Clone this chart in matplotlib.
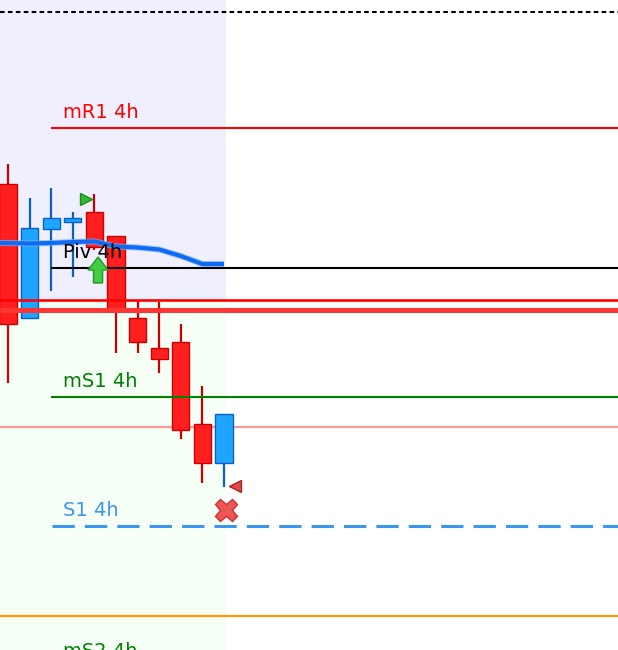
import matplotlib
matplotlib.use("Agg")
import matplotlib.pyplot as plt
import numpy as np

# candles (index, open, high, low, close)
idx = [0, 1, 2, 3, 4, 5, 6, 7, 8, 9, 10]
opens = [1.0816, 1.0682, 1.0771, 1.0778, 1.0788, 1.0764, 1.0682, 1.0652, 1.0658, 1.0576, 1.0537]
highs = [1.0836, 1.0802, 1.0812, 1.0788, 1.0806, 1.0764, 1.0699, 1.0698, 1.0676, 1.0614, 1.0586]
lows = [1.0617, 1.0682, 1.0709, 1.0723, 1.0750, 1.0647, 1.0647, 1.0627, 1.0561, 1.0517, 1.0513]
closes = [1.0676, 1.0772, 1.0782, 1.0782, 1.0753, 1.0691, 1.0658, 1.0641, 1.0570, 1.0537, 1.0586]

# moving average
ma_idx = [-1, 0, 1, 2, 3, 4, 5, 6, 7, 8, 9, 10]
ma_vals = [1.0757, 1.0757, 1.07565, 1.0757, 1.0758, 1.07585, 1.07535, 1.07525, 1.07505, 1.0744, 1.0736, 1.0736]

# pivot levels
level_names = ["mR1 4h", "Piv 4h", "mS1 4h", "S1 4h", "mS2 4h"]
level_vals = [1.0872, 1.0732, 1.0603, 1.0474, 1.0333]
level_colors = ["#ff0000", "#000000", "#008000", "#3a96ee", "#008000"]
text_colors = ["#ff0000", "#000000", "#008000", "#3a96ee", "#008000"]

# other horizontal lines
top_line = 1.0988
red_thin = 1.0700
red_thick = 1.0690
pink_line = 1.0573
orange_line = 1.0384

# signals
buy_tri = (3.61, 1.0801)
buy_arrow = (4.17, 1.0717, 1.0743)
sell_tri = (10.5, 1.0514)
sell_x = (10.09, 1.0490)

session_end = 10.09
session_split = 1.0700

fig = plt.figure(figsize=(6.18, 6.5), dpi=100)
ax = fig.add_axes([0, 0, 1, 1])
x0, x1 = -0.37, 28.24
y0, y1 = 1.0350, 1.1000
ax.set_xlim(x0, x1)
ax.set_ylim(y0, y1)
ax.axis("off")

# session background
ax.fill_between([x0, session_end], session_split, y1, color="#efeffd", zorder=0, lw=0)
ax.fill_between([x0, session_end], y0, session_split, color="#f6fff6", zorder=0, lw=0)

ax.axhline(top_line, color="black", lw=1.5, ls=(0, (2.2, 1.6)), zorder=1)

# candles
bw = 0.79
for i, o, h, l, c in zip(idx, opens, highs, lows, closes):
    if c < o:
        face, edge = "#ff1f1f", "#cc0000"
    else:
        face, edge = "#1ea5ff", "#0a60c8"
    ax.plot([i, i], [l, h], color=edge, lw=1.6, zorder=3, solid_capstyle="butt")
    ax.add_patch(plt.Rectangle((i - bw / 2, min(o, c)), bw, abs(c - o),
                               facecolor=face, edgecolor=edge, lw=1.0, zorder=4))

# moving average
ax.plot(ma_idx, ma_vals, color="#7fb0f8", lw=4.4, alpha=0.7, zorder=5, solid_capstyle="butt")
ax.plot(ma_idx, ma_vals, color="#0f6cf2", lw=3.0, zorder=5, solid_capstyle="butt")

# pivot levels
for name, v, lc, tc in zip(level_names, level_vals, level_colors, text_colors):
    if name == "S1 4h":
        ax.plot([2.04, x1], [v, v], color=lc, lw=2.2, ls=(0, (7.3, 3.3)), zorder=6)
    else:
        ax.plot([2.04, x1], [v, v], color=lc, lw=1.5, zorder=6)
    ax.text(2.55, v + 0.0010, name, color=tc, fontsize=14, family="DejaVu Sans",
            va="baseline", ha="left", zorder=7)

ax.axhline(red_thin, color="#ff0000", lw=1.9, zorder=6)
ax.axhline(red_thick, color="#ff3535", lw=3.6, zorder=6)
ax.axhline(pink_line, color="#ff9999", lw=1.5, zorder=2)
ax.axhline(orange_line, color="#ff9900", lw=1.6, zorder=2)

# signals
ax.plot(*buy_tri, marker=">", ms=9, color="#33bb33", mec="#1d8a1d", mew=1, zorder=8)
ax.arrow(buy_arrow[0], buy_arrow[1], 0, buy_arrow[2] - buy_arrow[1],
         width=0.42, head_width=0.93, head_length=0.0013, length_includes_head=True,
         facecolor="#44cc44", edgecolor="#229922", lw=1, zorder=8)
ax.plot(*sell_tri, marker="<", ms=9, color="#e04848", mec="#b02020", mew=1, zorder=8)
ax.plot(*sell_x, marker="X", ms=16, color="#ee5555", mec="#cc3333", mew=1, zorder=8)

fig.savefig("out.png", dpi=100)
